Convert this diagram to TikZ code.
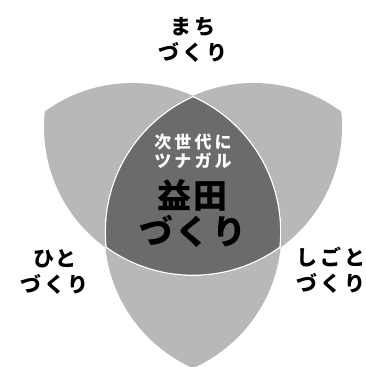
\documentclass[tikz,border=0pt]{standalone}
\usepackage{fontspec}
\newfontfamily\jpfont{Noto Sans CJK JP}[BoldFont={Noto Sans CJK JP Black}]
\begin{document}
\begin{tikzpicture}[x=1pt,y=-1pt,
    petal/.style={fill=black!28},
    core/.style={fill=black!58},
    rim/.style={draw=white,line width=2.6pt},
    labeltext/.style={align=center,inner sep=0pt,font=\jpfont\bfseries\addfontfeatures{LetterSpace=12}\fontsize{21}{26}\selectfont},
    smalltext/.style={align=center,inner sep=0pt,text=white,font=\jpfont\bfseries\addfontfeatures{LetterSpace=18}\fontsize{17}{19}\selectfont},
    bigtext/.style={align=center,inner sep=0pt,font=\jpfont\bfseries\addfontfeatures{LetterSpace=6}\fontsize{34}{36}\selectfont}]
        \useasboundingbox (0,0) rectangle (366,367);
        \coordinate (machi) at (193,127);
        \coordinate (hito) at (132.4,232);
        \coordinate (shigoto) at (253.6,232);
        % pairwise overlaps
        \begin{scope}
            \clip (hito) circle [radius=149pt];
            \fill [petal] (machi) circle [radius=149pt];
            \fill [petal] (shigoto) circle [radius=149pt];
        \end{scope}
        \begin{scope}
            \clip (shigoto) circle [radius=149pt];
            \fill [petal] (machi) circle [radius=149pt];
        \end{scope}
        % all three
        \begin{scope}
            \clip (hito) circle [radius=149pt];
            \clip (shigoto) circle [radius=149pt];
            \clip (machi) circle [radius=149pt];
            \fill [core] (machi) circle [radius=149pt];
            \draw [rim] (machi) circle [radius=149pt];
            \draw [rim] (hito) circle [radius=149pt];
            \draw [rim] (shigoto) circle [radius=149pt];
        \end{scope}
        \node [labeltext] (machilabel) at (193,40) {まち\\づくり};
        \node [labeltext] (hitolabel) at (55,272) {ひと\\づくり};
        \node [labeltext] (shigotolabel) at (331,270) {しごと\\づくり};
        \node [smalltext] (nextgen) at (193,151) {次世代に\\ツナガル};
        \node [bigtext] (masuda) at (193,214) {益田\\づくり};
\end{tikzpicture}
\end{document}
